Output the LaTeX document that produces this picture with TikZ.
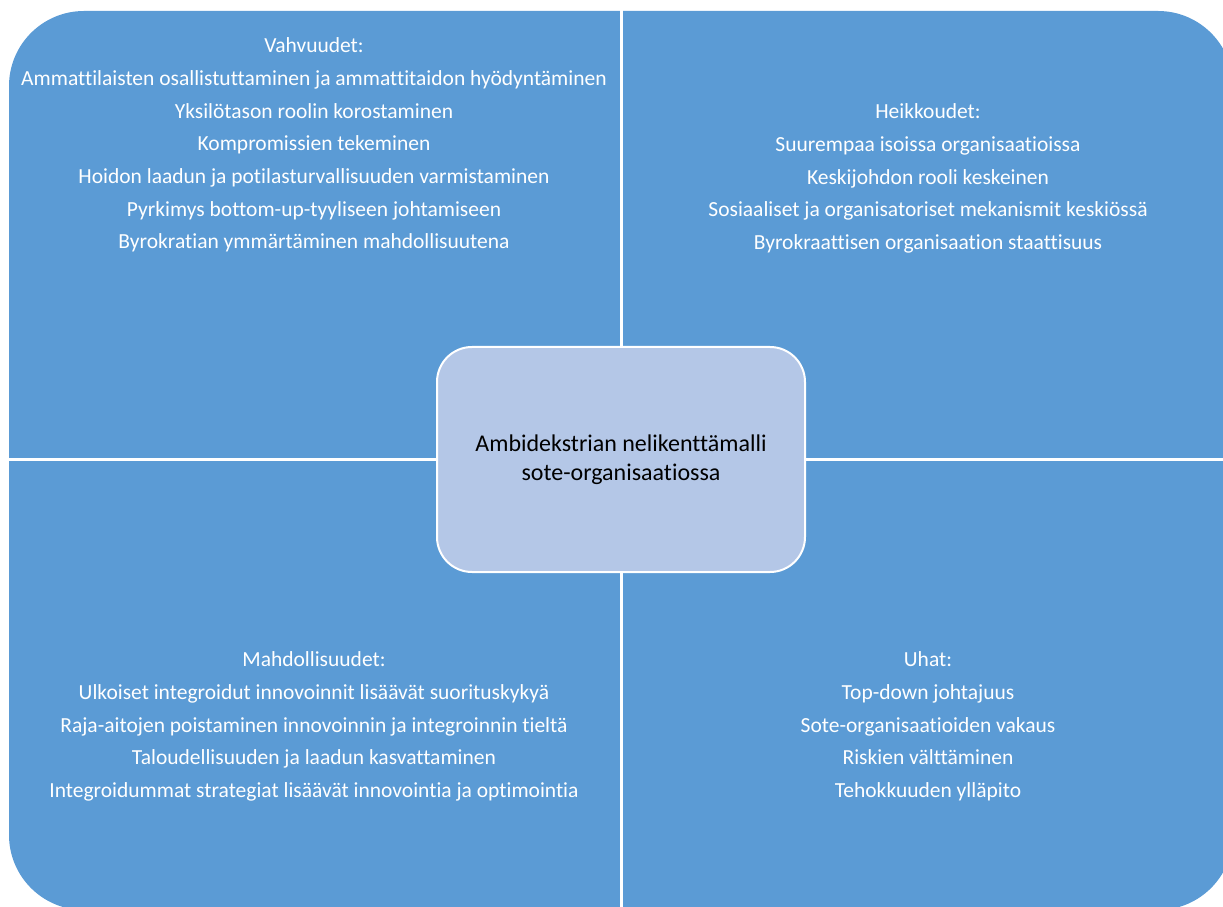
\documentclass[tikz,border=0pt]{standalone}
\usepackage{fontspec}
\setmainfont[Ligatures=NoCommon]{Carlito}
\definecolor{quadblue}{RGB}{91,155,213}
\definecolor{hubblue}{RGB}{180,199,231}
\begin{document}
\begin{tikzpicture}[x=1pt,y=1pt,
  quadtext/.style={text=white, align=center, anchor=north, inner sep=0pt,
    font=\fontsize{21.5}{32.7}\selectfont},
  hub/.style={draw=white, line width=2pt, fill=hubblue, rounded corners=35pt,
    minimum width=368pt, minimum height=225pt, align=center,
    font=\fontsize{24}{29}\selectfont}]
\useasboundingbox (0,0) rectangle (1223,906);
\begin{scope}
\clip (0,0) rectangle (1223,906);
% four fields, each with one rounded outer corner
\fill[quadblue] (621,446) -- (9,446) -- (9,820) arc[start angle=180,end angle=90,radius=75] -- (621,895) -- cycle;
\fill[quadblue] (621,446) -- (1233,446) -- (1233,820) arc[start angle=0,end angle=90,radius=75] -- (621,895) -- cycle;
\fill[quadblue] (621,446) -- (9,446) -- (9,71) arc[start angle=180,end angle=270,radius=75] -- (621,-4) -- cycle;
\fill[quadblue] (621,446) -- (1233,446) -- (1233,71) arc[start angle=0,end angle=-90,radius=75] -- (621,-4) -- cycle;
% white gaps between the fields
\draw[white, line width=3pt] (621,-10) -- (621,910);
\draw[white, line width=3pt] (0,446) -- (1230,446);
\end{scope}

\node[quadtext] (strengths) at (314,868.5) {Vahvuudet:\\
Ammattilaisten osallistuttaminen ja ammattitaidon hyödyntäminen\\
Yksilötason roolin korostaminen\\
Kompromissien tekeminen\\
Hoidon laadun ja potilasturvallisuuden varmistaminen\\
Pyrkimys bottom-up-tyyliseen johtamiseen\\
Byrokratian ymmärtäminen mahdollisuutena};

\node[quadtext] (weaknesses) at (928,802.5) {Heikkoudet:\\
Suurempaa isoissa organisaatioissa\\
Keskijohdon rooli keskeinen\\
Sosiaaliset ja organisatoriset mekanismit keskiössä\\
Byrokraattisen organisaation staattisuus};

\node[quadtext] (opportunities) at (314,254.5) {Mahdollisuudet:\\
Ulkoiset integroidut innovoinnit lisäävät suorituskykyä\\
Raja-aitojen poistaminen innovoinnin ja integroinnin tieltä\\
Taloudellisuuden ja laadun kasvattaminen\\
Integroidummat strategiat lisäävät innovointia ja optimointia};

\node[quadtext] (threats) at (928,254.5) {Uhat:\\
Top-down johtajuus\\
Sote-organisaatioiden vakaus\\
Riskien välttäminen\\
Tehokkuuden ylläpito};

\node[hub] (model) at (621,446.5) {Ambidekstrian nelikenttämalli\\sote-organisaatiossa};
\end{tikzpicture}
\end{document}
